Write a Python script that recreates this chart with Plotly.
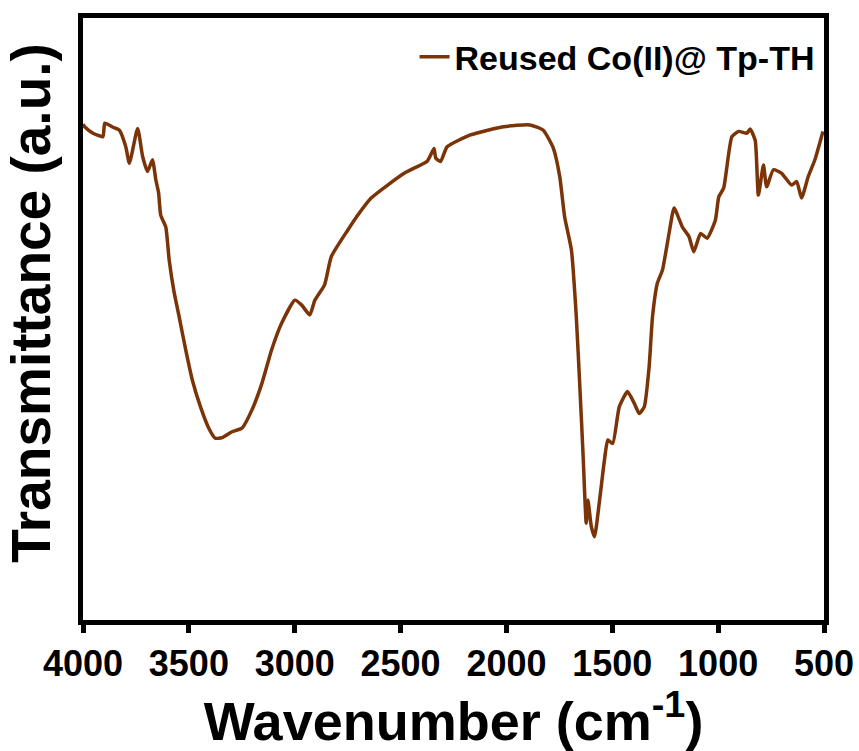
import plotly.graph_objects as go

# FTIR spectrum
wavenumber = [4000, 3992, 3953, 3906, 3897, 3859, 3828, 3798, 3781, 3742, 3718, 3695, 3672, 3656,
              3643, 3633, 3609, 3593, 3570, 3546, 3515, 3484, 3445, 3406, 3375, 3343, 3296,
              3249, 3202, 3155, 3109, 3062, 2999, 2968, 2929, 2905, 2859, 2827, 2749, 2718,
              2639, 2483, 2373, 2342, 2334, 2311, 2280, 2170, 2014, 1889, 1826, 1779, 1748,
              1725, 1693, 1670, 1654, 1639, 1623, 1615, 1599, 1584, 1560, 1537, 1521, 1498,
              1467, 1428, 1396, 1373, 1349, 1326, 1310, 1287, 1263, 1232, 1208, 1169, 1138,
              1115, 1083, 1052, 1013, 997, 974, 935, 903, 864, 849, 825, 810, 786, 771, 739,
              700, 653, 629, 606, 575, 543, 505]
transmittance = [81.3, 80.9, 79.8, 79.2, 81.5, 80.8, 80.3, 77.5, 74.7, 80.6, 75.8, 73.3, 75.3, 71.9,
                 69.7, 65.9, 63.9, 58.3, 52.9, 48.7, 43.1, 38.0, 33.4, 29.8, 28.1, 28.2, 29.2,
                 29.8, 32.9, 37.4, 43.1, 47.6, 51.5, 50.7, 49.0, 51.5, 54.1, 58.9, 63.4, 65.1,
                 68.8, 73.0, 75.1, 77.2, 75.6, 75.0, 77.5, 79.5, 80.9, 81.2, 80.3, 77.3, 72.4,
                 65.6, 60.0, 48.7, 37.4, 26.1, 13.7, 17.6, 13.1, 11.4, 17.6, 24.4, 27.8, 27.2,
                 33.4, 36.0, 34.0, 32.3, 33.4, 40.2, 48.7, 54.4, 56.6, 62.8, 67.1, 63.9, 62.3,
                 59.7, 62.8, 62.0, 65.1, 69.0, 70.5, 79.2, 80.1, 79.8, 80.5, 78.6, 69.3, 74.4, 70.7, 73.6,
                 73.0, 71.0, 71.6, 68.8, 72.4, 75.3, 80.1]
series_name = "Reused Co(II)@ Tp-TH"
x_ticks = [4000, 3500, 3000, 2500, 2000, 1500, 1000, 500]
x_title = "Wavenumber (cm<sup>-1</sup>)"
y_title = "Transmittance (a.u.)"

FONT = "Liberation Sans, Arial, sans-serif"

fig = go.Figure()
fig.add_trace(go.Scatter(
    x=wavenumber, y=transmittance, mode="lines", name=series_name,
    line=dict(color="#7b3308", width=3.5, shape="spline", smoothing=0.5),
))

fig.update_layout(
    width=859, height=751,
    margin=dict(l=83, r=35, t=18, b=131),
    plot_bgcolor="white", paper_bgcolor="white",
    font=dict(family=FONT, color="black"),
    showlegend=True,
    legend=dict(x=0.994, xanchor="right", y=0.935, yanchor="middle",
                bgcolor="rgba(0,0,0,0)", borderwidth=0,
                font=dict(size=34, family=FONT, weight="bold", color="black")),
    xaxis=dict(
        range=[4000, 500], tickvals=x_ticks, ticktext=[str(t) for t in x_ticks],
        ticks="outside", ticklen=8, tickwidth=5, tickcolor="black",
        showline=True, linewidth=5, linecolor="black", mirror=True,
        showgrid=False, zeroline=False, automargin=False,
        tickfont=dict(size=36, family=FONT, weight="bold", color="black"),
        title=dict(text=x_title, standoff=18,
                   font=dict(size=54, family=FONT, weight="bold", color="black")),
    ),
    yaxis=dict(
        range=[-2.71, 99.32], showticklabels=False, ticks="",
        showline=True, linewidth=5, linecolor="black", mirror=True,
        showgrid=False, zeroline=False, automargin=False,
    ),
    annotations=[dict(
        text=y_title, textangle=-90, xref="paper", yref="paper",
        x=-0.0702, y=0.527, xanchor="center", yanchor="middle", showarrow=False,
        font=dict(size=55, family=FONT, weight="bold", color="black"),
    )],
)

fig.write_html("out.html")
